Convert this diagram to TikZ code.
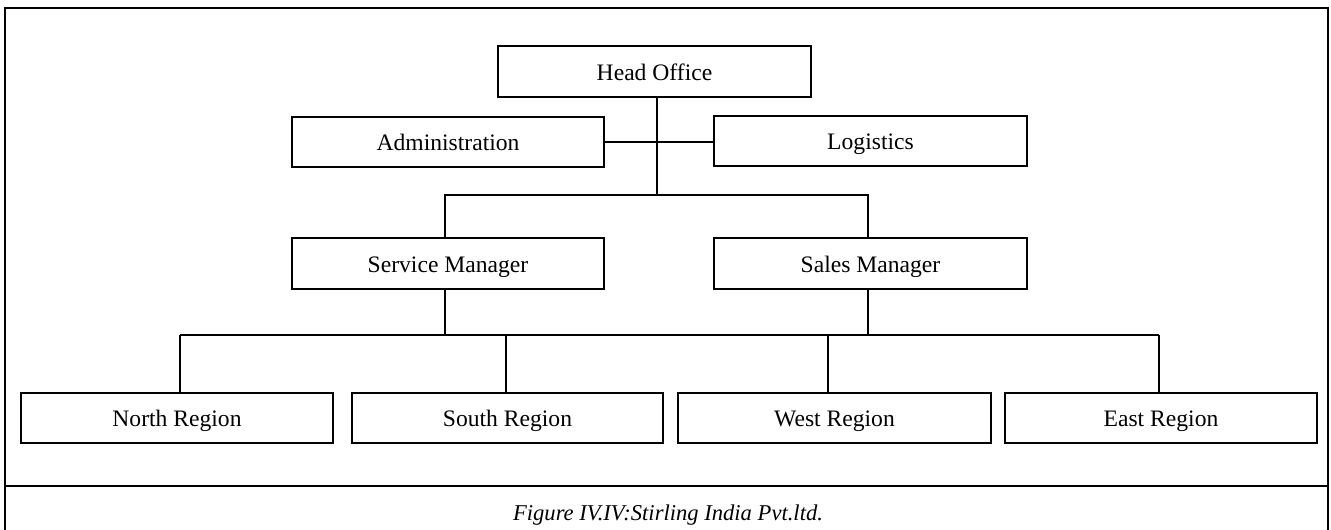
\documentclass[tikz,border=0pt]{standalone}
\usepackage{fontspec}
\setmainfont{Liberation Serif}
\begin{document}
\begin{tikzpicture}[x=1pt,y=-1pt,
  line width=1.6pt,
  unit/.style={draw, rectangle, inner sep=0pt, anchor=center,
    text height=19pt, text depth=2pt,
    font=\fontsize{23.6}{28}\selectfont},
  link/.style={line width=1.5pt}]
\useasboundingbox (0,0) rectangle (1331,530);

% outer frame and caption divider
\draw (5,531) -- (5,8) -- (1328,8) -- (1328,531);
\draw (5,486) -- (1328,486);
\node[font=\fontsize{22.6}{27}\selectfont\itshape] (caption) at (668,515)
  {Figure IV.IV:Stirling India Pvt.ltd.};

% boxes
\node[unit, minimum width=313pt, minimum height=51pt] (head) at (654.5,71.5) {Head Office};
\node[unit, minimum width=312pt, minimum height=50pt] (admin) at (448,142) {Administration};
\node[unit, minimum width=313pt, minimum height=50pt] (logi) at (870.5,141) {Logistics};
\node[unit, minimum width=312pt, minimum height=51pt] (service) at (448,263.5) {Service Manager};
\node[unit, minimum width=313pt, minimum height=51pt] (sales) at (870.5,263.5) {Sales Manager};
\node[unit, minimum width=312pt, minimum height=50pt] (north) at (177,418) {North Region};
\node[unit, minimum width=311pt, minimum height=50pt] (south) at (507.5,418) {South Region};
\node[unit, minimum width=313pt, minimum height=50pt] (west) at (834.5,418) {West Region};
\node[unit, minimum width=312pt, minimum height=50pt] (east) at (1161,418) {East Region};

% junction points
\coordinate (trunk) at (657,195);
\coordinate (sl) at (445,195);
\coordinate (sr) at (868,195);
\coordinate (bn) at (180,335);
\coordinate (bs) at (506,335);
\coordinate (bw) at (828,335);
\coordinate (be) at (1159,335);

% connectors
\draw[link] (head.south -| trunk) -- (trunk);
\draw[link] (admin.east) -- (logi.west |- admin.east);
\draw[link] (service.north -| sl) -- (sl) -- (sr) -- (sales.north -| sr);
\draw[link] (service.south -| sl) -- (sl |- bn);
\draw[link] (sales.south -| sr) -- (sr |- be);
\draw[link] (bn) -- (be);
\draw[link] (bn) -- (north.north -| bn);
\draw[link] (bs) -- (south.north -| bs);
\draw[link] (bw) -- (west.north -| bw);
\draw[link] (be) -- (east.north -| be);
\end{tikzpicture}
\end{document}
